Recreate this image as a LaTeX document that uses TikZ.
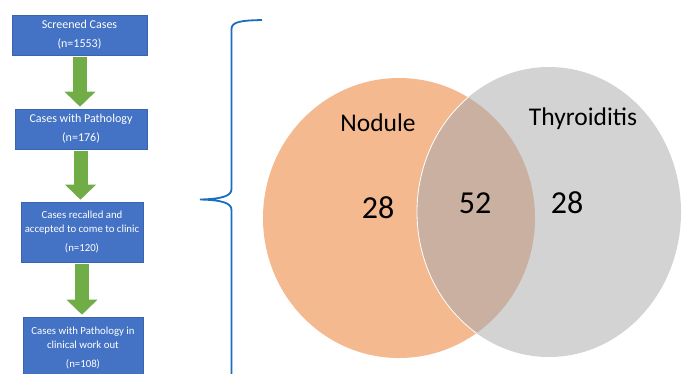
\documentclass[tikz,border=0pt]{standalone}
\usepackage{fontspec}
\setmainfont{Carlito}
\usetikzlibrary{arrows.meta}
\definecolor{boxblue}{HTML}{4472C4}
\definecolor{boxedge}{HTML}{3A64B0}
\definecolor{arrgreen}{HTML}{70AD47}
\definecolor{brblue}{HTML}{1A6EC0}
\definecolor{vorange}{HTML}{F4B98F}
\definecolor{vgray}{HTML}{D3D3D3}
\definecolor{vmix}{HTML}{C9B0A0}
\tikzset{
  flowbox/.style={draw=boxedge, line width=0.6pt, fill=boxblue, text=white, align=center,
    inner sep=0pt},
  bigtext/.style={font=\fontsize{12}{14}\selectfont},
  smalltext/.style={font=\fontsize{10.8}{14}\selectfont},
  bigarrow/.style={draw=arrgreen, line width=14pt,
    -{Triangle[length=15pt,width=30pt]}, shorten <=2pt, shorten >=2pt},
  vennlabel/.style={font=\fontsize{25.5}{30}\selectfont, text=black},
  vennnum/.style={font=\fontsize{32}{36}\selectfont, text=black},
}
\begin{document}
\begin{tikzpicture}[x=1pt,y=-1pt]
\clip (0,0) rectangle (687,373);
\fill[white] (0,0) rectangle (687,373);

% flow boxes
\node[flowbox, bigtext, minimum width=135pt, minimum height=40pt] (b1) at (79.5,35)
  {Screened Cases\\[5pt](n=1553)};
\node[flowbox, bigtext, minimum width=132pt, minimum height=40pt] (b2) at (81,129)
  {Cases with Pathology\\[5pt](n=176)};
\node[flowbox, smalltext, minimum width=122pt, minimum height=60pt] (b3) at (82,232)
  {Cases recalled and\\accepted to come to clinic\\[5pt](n=120)};
\node[flowbox, smalltext, minimum width=120pt, minimum height=62pt] (b4) at (83,348)
  {Cases with Pathology in\\clinical work out\\[5pt](n=108)};

% arrows
\draw[bigarrow] (b1.south -| 80,0) -- (b2.north -| 80,0);
\draw[bigarrow] (b2.south -| 80.5,0) -- (b3.north -| 80.5,0);
\draw[bigarrow] (b3.south -| 82,0) -- (b4.north -| 82,0);

% bracket
\draw[brblue, line width=1.8pt]
  (262,20) .. controls (242,20.5) and (231.5,21.5) .. (231.5,29)
  -- (231.5,189)
  .. controls (231.5,196) and (222,199) .. (200,199.5)
  .. controls (222,200) and (231.5,203) .. (231.5,210)
  -- (231.5,380);

% venn
\fill[vorange] (399,218) ellipse [x radius=136, y radius=140];
\fill[vgray] (549,212) ellipse [x radius=132, y radius=145];
\begin{scope}
  \clip (399,218) ellipse [x radius=136, y radius=140];
  \fill[vmix] (549,212) ellipse [x radius=132, y radius=145];
  \draw[white, line width=0.8pt] (549,212) ellipse [x radius=132, y radius=145];
\end{scope}

\node[vennlabel] (lnod) at (378,123) {Nodule};
\node[vennlabel] (lthy) at (583,119) {Thyroiditis};
\node[vennnum] (n1) at (378,208) {28};
\node[vennnum] (n2) at (475,203) {52};
\node[vennnum] (n3) at (567,203) {28};
\end{tikzpicture}
\end{document}
